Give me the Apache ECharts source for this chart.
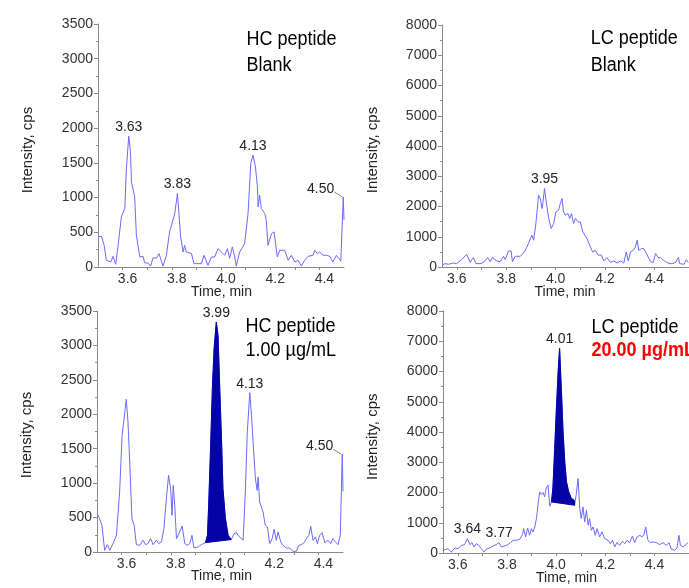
<!DOCTYPE html>
<html><head><meta charset="utf-8">
<script src="https://cdn.jsdelivr.net/npm/echarts@6/dist/echarts.min.js"></script>
<style>html,body{margin:0;padding:0;background:#fff}#c{width:689px;height:588px}</style>
</head><body><div id="c"></div>
<script>
// ---- data (time in min, intensity in cps) ----
const hcBlank = [[3.500,433],[3.514,443],[3.525,313],[3.534,97],[3.552,72],[3.561,154],[3.572,39],[3.581,289],[3.595,722],[3.609,847],[3.615,1395],[3.625,1886],[3.632,1660],[3.636,1227],[3.649,1010],[3.656,457],[3.670,144],[3.683,154],[3.690,58],[3.703,58],[3.714,14],[3.724,135],[3.737,125],[3.748,193],[3.764,14],[3.778,169],[3.791,505],[3.812,770],[3.823,1059],[3.828,818],[3.836,433],[3.846,216],[3.852,313],[3.859,216],[3.880,193],[3.890,48],[3.920,48],[3.931,169],[3.947,24],[3.961,144],[3.974,144],[3.988,265],[4.002,216],[4.015,169],[4.026,265],[4.035,125],[4.046,289],[4.056,144],[4.062,14],[4.076,216],[4.096,337],[4.110,770],[4.121,1492],[4.130,1612],[4.140,1443],[4.148,1155],[4.151,866],[4.157,1035],[4.164,842],[4.178,770],[4.184,674],[4.191,313],[4.205,481],[4.216,505],[4.229,144],[4.239,241],[4.259,241],[4.273,97],[4.286,169],[4.300,72],[4.313,97],[4.327,14],[4.340,97],[4.354,154],[4.374,169],[4.381,241],[4.392,193],[4.401,216],[4.415,169],[4.428,169],[4.442,154],[4.455,72],[4.469,169],[4.487,87],[4.497,1010],[4.500,680]];

const lcBlank = [[3.541,56],[3.552,112],[3.566,90],[3.586,132],[3.599,112],[3.620,244],[3.640,420],[3.654,150],[3.667,311],[3.677,112],[3.694,112],[3.708,150],[3.725,311],[3.735,176],[3.744,311],[3.762,200],[3.775,176],[3.789,354],[3.796,244],[3.809,530],[3.820,530],[3.825,176],[3.836,354],[3.857,354],[3.874,500],[3.890,774],[3.904,1050],[3.911,884],[3.920,1436],[3.931,2374],[3.938,2264],[3.945,1933],[3.949,2154],[3.955,2595],[3.962,2154],[3.972,1602],[3.982,1271],[3.992,1436],[4.001,1822],[4.012,1878],[4.019,2099],[4.026,2264],[4.032,1822],[4.039,1712],[4.050,1767],[4.057,1602],[4.064,1767],[4.073,1436],[4.080,1602],[4.091,1491],[4.100,1491],[4.110,1161],[4.116,1161],[4.127,942],[4.141,661],[4.150,500],[4.161,550],[4.172,394],[4.185,394],[4.195,200],[4.208,311],[4.222,150],[4.235,200],[4.249,132],[4.263,200],[4.276,132],[4.286,500],[4.294,200],[4.303,500],[4.314,550],[4.323,661],[4.330,884],[4.337,550],[4.348,610],[4.357,610],[4.371,394],[4.384,176],[4.395,150],[4.405,450],[4.415,311],[4.425,311],[4.434,244],[4.445,176],[4.459,112],[4.472,112],[4.486,150],[4.497,320],[4.502,112],[4.520,90],[4.529,244],[4.537,150]];

const hcSample = [[3.504,543],[3.511,557],[3.520,388],[3.531,25],[3.542,107],[3.552,25],[3.565,122],[3.579,242],[3.592,871],[3.602,1694],[3.610,1935],[3.619,2217],[3.626,1887],[3.633,1307],[3.642,485],[3.651,388],[3.660,107],[3.674,97],[3.687,170],[3.697,107],[3.707,122],[3.718,194],[3.728,107],[3.741,170],[3.751,122],[3.762,146],[3.772,339],[3.782,775],[3.791,1114],[3.800,896],[3.805,533],[3.810,968],[3.816,678],[3.823,194],[3.836,291],[3.846,378],[3.857,122],[3.867,97],[3.877,122],[3.886,242],[3.894,58],[3.911,73],[3.924,107],[3.941,136],[3.949,242],[3.954,678],[3.962,1549],[3.969,2372],[3.976,2953],[3.985,3340],[3.992,3146],[3.999,2372],[4.006,1646],[4.012,920],[4.022,485],[4.033,242],[4.046,180],[4.057,266],[4.067,281],[4.073,242],[4.094,170],[4.103,871],[4.111,1742],[4.121,2314],[4.128,1984],[4.137,1452],[4.144,1065],[4.151,896],[4.155,1089],[4.161,726],[4.168,702],[4.175,581],[4.184,388],[4.193,363],[4.202,122],[4.212,194],[4.220,330],[4.229,170],[4.236,291],[4.247,146],[4.256,97],[4.270,58],[4.283,58],[4.297,10],[4.310,10],[4.320,97],[4.331,107],[4.342,136],[4.351,194],[4.361,242],[4.369,373],[4.378,170],[4.388,218],[4.396,122],[4.405,242],[4.415,281],[4.426,136],[4.439,170],[4.450,122],[4.459,194],[4.469,146],[4.480,107],[4.489,242],[4.497,1420],[4.500,880]];

const lcSample = [[3.540,89],[3.547,56],[3.560,144],[3.574,33],[3.588,166],[3.601,144],[3.615,254],[3.628,276],[3.639,475],[3.649,276],[3.658,343],[3.666,199],[3.676,309],[3.685,254],[3.696,144],[3.707,33],[3.716,122],[3.730,166],[3.743,232],[3.757,276],[3.768,343],[3.777,199],[3.791,232],[3.804,276],[3.814,343],[3.825,420],[3.838,420],[3.852,453],[3.863,608],[3.868,806],[3.876,531],[3.884,828],[3.892,585],[3.899,806],[3.906,696],[3.913,861],[3.920,1138],[3.926,1579],[3.933,2020],[3.940,1932],[3.947,2000],[3.953,1855],[3.960,2152],[3.967,2241],[3.974,1546],[3.981,1688],[3.987,2185],[3.994,3456],[4.001,4780],[4.008,5991],[4.014,6765],[4.021,5442],[4.028,4006],[4.035,3012],[4.042,2350],[4.051,2020],[4.062,1800],[4.073,1744],[4.075,1579],[4.082,1966],[4.089,2463],[4.096,1470],[4.102,1138],[4.109,1523],[4.116,1027],[4.123,1414],[4.130,917],[4.136,1138],[4.143,751],[4.150,861],[4.159,586],[4.166,806],[4.177,531],[4.186,696],[4.197,475],[4.211,420],[4.220,309],[4.229,420],[4.238,199],[4.247,343],[4.258,254],[4.269,387],[4.279,309],[4.288,420],[4.299,343],[4.310,564],[4.319,343],[4.329,531],[4.340,586],[4.349,531],[4.357,608],[4.364,861],[4.373,420],[4.383,343],[4.394,365],[4.407,343],[4.421,276],[4.434,343],[4.448,254],[4.459,343],[4.468,122],[4.482,89],[4.491,166],[4.499,586],[4.505,254],[4.516,199],[4.527,276],[4.536,343]];

// integrated peak windows (start, end time)
const hcSamplePeakWindow = [3.941, 4.046];
const lcSamplePeakWindow = [3.981, 4.075];

// peak retention-time labels: [text, time, intensity, leader]
const hcBlankLabels = [['3.63',3.625,1886,0],['3.83',3.823,1059,0],['4.13',4.130,1612,0],['4.50',4.497,1010,1]];
const lcBlankLabels = [['3.95',3.955,2595,0]];
const hcSampleLabels = [['3.99',3.985,3340,0],['4.13',4.121,2314,0],['4.50',4.497,1420,1]];
const lcSampleLabels = [['4.01',4.014,6765,0],['3.64',3.639,475,0],['3.77',3.768,343,0]];

// axes
const hcTimeRange = [3.5, 4.5];
const lcTimeRange = [3.54, 4.54];
const timeLabels = [3.6, 3.8, 4.0, 4.2, 4.4];
const timeTicks = [3.6, 3.7, 3.8, 3.9, 4.0, 4.1, 4.2, 4.3, 4.4];
const hcIntensityMax = 3500, hcIntensityStep = 500;
const lcIntensityMax = 8000, lcIntensityStep = 1000;

// ---- styling ----
const FONT = "'Liberation Sans', Arial, sans-serif";
const LINE = '#6a6aff';
const FILL = '#0404a6';
const AXIS = '#8a8a8a';
const TXT = '#333';

const grids = [
  {left: 98, top: 24, width: 246, height: 243},
  {left: 442, top: 25, width: 247, height: 242},
  {left: 97, top: 311, width: 246, height: 241},
  {left: 443, top: 311, width: 246, height: 242}
];

function xAxis(i, range, shiftLabels) {
  return {
    type: 'value', gridIndex: i, min: range[0], max: range[1],
    axisLine: {show: true, lineStyle: {color: AXIS, width: 1}},
    axisTick: {show: true, length: 3, customValues: timeTicks, lineStyle: {color: AXIS}},
    splitLine: {show: false},
    axisLabel: {customValues: timeLabels, formatter: v => Number(v).toFixed(1), fontSize: 14, fontFamily: FONT, color: TXT, margin: 5,
      padding: shiftLabels ? [0, 0, 0, 10] : 0}
  };
}
function yAxis(i, max, step) {
  return {
    type: 'value', gridIndex: i, min: 0, max: max, interval: step,
    axisLine: {show: true, lineStyle: {color: AXIS, width: 1}},
    axisTick: {show: true, length: 4, lineStyle: {color: AXIS}},
    minorTick: {show: true, splitNumber: 2, length: 2, lineStyle: {color: AXIS}},
    splitLine: {show: false},
    axisLabel: {formatter: v => String(Math.round(v)), fontSize: 14, fontFamily: FONT, color: TXT, margin: 5}
  };
}
function traceSeries(i, data) {
  return {type: 'line', xAxisIndex: i, yAxisIndex: i, data: data, showSymbol: false, symbol: 'none',
    lineStyle: {color: LINE, width: 1}, z: 2, silent: true};
}
function peakSeries(i, data, win) {
  const pts = data.filter(p => p[0] >= win[0] - 1e-9 && p[0] <= win[1] + 1e-9);
  return {type: 'custom', xAxisIndex: i, yAxisIndex: i, z: 3, silent: true, data: [pts[0]],
    renderItem: (params, api) => ({type: 'polygon', shape: {points: pts.map(p => api.coord(p))},
      style: {fill: FILL, stroke: FILL, lineWidth: 1}})};
}
function labelSeries(i, labels) {
  return {type: 'custom', xAxisIndex: i, yAxisIndex: i, z: 4, clip: false, silent: true,
    data: labels.map(l => [l[1], l[2]]),
    renderItem: (params, api) => {
      const l = labels[params.dataIndex];
      const p = api.coord([l[1], l[2]]);
      if (l[3]) {
        return {type: 'group', children: [
          {type: 'line', shape: {x1: p[0] - 9, y1: p[1] - 5, x2: p[0] - 1, y2: p[1]}, style: {stroke: '#888', lineWidth: 1}},
          {type: 'text', style: {text: l[0], x: p[0] - 9, y: p[1] - 8, textAlign: 'right', textVerticalAlign: 'middle',
            align: 'right', verticalAlign: 'middle', font: '14px ' + FONT, fill: '#222'}}
        ]};
      }
      return {type: 'text', style: {text: l[0], x: p[0], y: p[1] - 2, textAlign: 'center', textVerticalAlign: 'bottom',
        align: 'center', verticalAlign: 'bottom', font: '14px ' + FONT, fill: '#222'}};
    }};
}
function vTitle(x, y) {
  return {type: 'text', x: x, y: y, rotation: Math.PI / 2, silent: true,
    style: {text: 'Intensity, cps', font: '15px ' + FONT, fill: '#222', textAlign: 'center', textVerticalAlign: 'middle', align: 'center', verticalAlign: 'middle'}};
}
function hTitle(x, y) {
  return {type: 'text', x: x, y: y, silent: true,
    style: {text: 'Time, min', font: '14px ' + FONT, fill: '#222', textAlign: 'center', textVerticalAlign: 'top', align: 'center', verticalAlign: 'top'}};
}
function note(x, y, text, color, bold) {
  return {type: 'text', x: x, y: y, scaleX: 0.9, silent: true,
    style: {text: text, font: (bold ? 'bold ' : '') + '20px ' + FONT, fill: color, textAlign: 'left', textVerticalAlign: 'top', align: 'left', verticalAlign: 'top'}};
}

const option = {
  animation: false,
  backgroundColor: '#fff',
  grid: grids.map(g => Object.assign({containLabel: false, outerBoundsMode: 'none'}, g)),
  xAxis: [xAxis(0, hcTimeRange, true), xAxis(1, lcTimeRange, false), xAxis(2, hcTimeRange, true), xAxis(3, lcTimeRange, false)],
  yAxis: [yAxis(0, hcIntensityMax, hcIntensityStep), yAxis(1, lcIntensityMax, lcIntensityStep), yAxis(2, hcIntensityMax, hcIntensityStep), yAxis(3, lcIntensityMax, lcIntensityStep)],
  series: [
    traceSeries(0, hcBlank), labelSeries(0, hcBlankLabels),
    traceSeries(1, lcBlank), labelSeries(1, lcBlankLabels),
    traceSeries(2, hcSample), peakSeries(2, hcSample, hcSamplePeakWindow), labelSeries(2, hcSampleLabels),
    traceSeries(3, lcSample), peakSeries(3, lcSample, lcSamplePeakWindow), labelSeries(3, lcSampleLabels)
  ],
  graphic: [
    vTitle(27.5, 150), vTitle(372.5, 150), vTitle(26.7, 435), vTitle(373.3, 436.7),
    hTitle(221.5, 285.5), hTitle(565, 285), hTitle(221.5, 569.5), hTitle(566.5, 571.5),
    note(246.5, 29, 'HC peptide', '#000', false), note(246.5, 55, 'Blank', '#000', false),
    note(590.7, 28.5, 'LC peptide', '#000', false), note(590.7, 55, 'Blank', '#000', false),
    note(245.5, 316, 'HC peptide', '#000', false), note(245.5, 340.5, '1.00 µg/mL', '#000', false),
    note(591.5, 317, 'LC peptide', '#000', false), note(591.5, 340.5, '20.00 µg/mL', '#ff0000', true)
  ]
};
const chart = echarts.init(document.getElementById('c'), null, {renderer: 'canvas'});
chart.setOption(option);
</script></body></html>
